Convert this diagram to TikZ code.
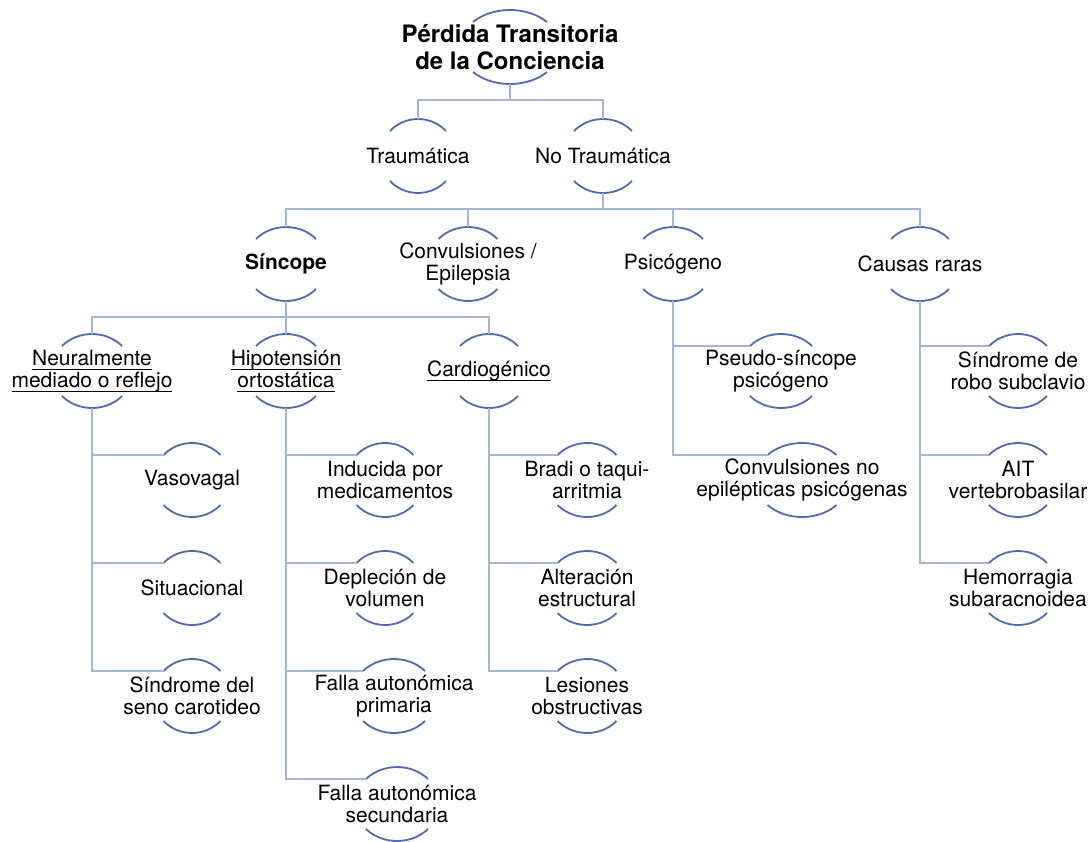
\documentclass[tikz,border=0pt]{standalone}
\usepackage{fontspec}
\setmainfont{TeX Gyre Heros}
\usetikzlibrary{positioning}
\definecolor{LinkBlue}{HTML}{A6B3DA}
\definecolor{ArcBlue}{HTML}{5069B2}

\newsavebox{\ulbox}
\newcommand{\uln}[1]{\sbox{\ulbox}{#1}\rlap{\rule[-4.5pt]{\wd\ulbox}{1.1pt}}\usebox{\ulbox}}

\tikzset{
  topic/.style={font=\fontsize{21}{21.5}\selectfont, align=center, inner sep=0pt, minimum height=74pt},
  rootopic/.style={topic, font=\fontsize{24}{27}\selectfont\bfseries},
  link/.style={draw=LinkBlue, line width=1.4pt},
  arcline/.style={draw=ArcBlue, line width=1.8pt},
}
% arcs above and below a topic, #1 = half width
\newcommand{\topicarcs}[2][29]{%
  \pgfmathsetmacro{\arcrx}{#1/cos(42.5)}%
  \draw[arcline] ([shift={(-#1,25)}]#2.center) arc[start angle=137.5, end angle=42.5, x radius=\arcrx pt, y radius=37pt];
  \draw[arcline] ([shift={(-#1,-25)}]#2.center) arc[start angle=222.5, end angle=317.5, x radius=\arcrx pt, y radius=37pt];
  \coordinate (#2-in) at ([shift={(-#1,25)}]#2.center);
}

\begin{document}
\begin{tikzpicture}[x=1pt,y=1pt]
  \useasboundingbox (0,0) rectangle (1092,-841);

  % main levels
  \node[rootopic] (root) at (510,-47) {Pérdida Transitoria\\de la Conciencia};
  \node[topic] (trau) at (418,-156) {Traumática};
  \node[topic] (notrau) at (603,-156) {No Traumática};
  \node[topic] (sinc) at (286,-264) {\textbf{Síncope}};
  \node[topic] (conv) at (468,-264) {Convulsiones /\\Epilepsia};
  \node[topic] (psic) at (673,-264) {Psicógeno};
  \node[topic] (caus) at (920,-264) {Causas raras};
  \node[topic] (neur) at (92,-371) {\uln{Neuralmente}\\\uln{mediado o reflejo}};
  \node[topic] (hipo) at (286,-371) {\uln{Hipotensión}\\\uln{ortostática}};
  \node[topic] (card) at (489,-371) {\uln{Cardiogénico}};

  % lists
  \node[topic] (vaso) at (192,-480) {Vasovagal};
  \node[topic] (situ) at (192,-588) {Situacional};
  \node[topic] (caro) at (192,-696) {Síndrome del\\seno carotideo};
  \node[topic] (indu) at (385,-480) {Inducida por\\medicamentos};
  \node[topic] (depl) at (385,-588) {Depleción de\\volumen};
  \node[topic] (fprim) at (394,-696) {Falla autonómica\\primaria};
  \node[topic] (fsec) at (397,-804) {Falla autonómica\\secundaria};
  \node[topic] (brad) at (587,-480) {Bradi o taqui-\\arritmia};
  \node[topic] (alte) at (587,-588) {Alteración\\estructural};
  \node[topic] (lesi) at (587,-696) {Lesiones\\obstructivas};
  \node[topic] (pseu) at (781,-371) {Pseudo-síncope\\psicógeno};
  \node[topic] (cnoe) at (802,-480) {Convulsiones no\\epilépticas psicógenas};
  \node[topic] (robo) at (1018,-371) {Síndrome de\\robo subclavio};
  \node[topic] (ait) at (1018,-480) {AIT\\vertebrobasilar};
  \node[topic] (hemo) at (1018,-588) {Hemorragia\\subaracnoidea};

  \foreach \n/\w in {root/37, trau/28, notrau/29, sinc/30, conv/29.5, psic/30, caus/29,
      neur/30, hipo/30, card/29, vaso/28.5, situ/28.5, caro/28.5, indu/28.5, depl/28.5,
      fprim/31, fsec/31, brad/29.5, alte/29.5, lesi/29.5, pseu/31, cnoe/34.5,
      robo/29, ait/29, hemo/29}
    {\topicarcs[\w]{\n}}

  % tree connectors
  \coordinate (j0) at (510,-100);
  \coordinate (j1) at (603,-209);
  \coordinate (j2) at (286,-317);
  \draw[link] (root.south) -- (j0);
  \draw[link] (trau.north) |- (j0) -| (notrau.north);
  \draw[link] (notrau.south) -- (j1);
  \draw[link] (sinc.north) |- (j1) -| (caus.north);
  \draw[link] (conv.north) -- (conv.north |- j1);
  \draw[link] (psic.north) -- (psic.north |- j1);
  \draw[link] (sinc.south) -- (hipo.north);
  \draw[link] (neur.north) |- (j2) -| (card.north);

  % list connectors
  \foreach \p/\c in {neur/vaso, neur/situ, neur/caro, hipo/indu, hipo/depl, hipo/fprim, hipo/fsec,
      card/brad, card/alte, card/lesi, psic/pseu, psic/cnoe, caus/robo, caus/ait, caus/hemo}
    \draw[link] (\p.south) |- (\c-in);
\end{tikzpicture}
\end{document}
